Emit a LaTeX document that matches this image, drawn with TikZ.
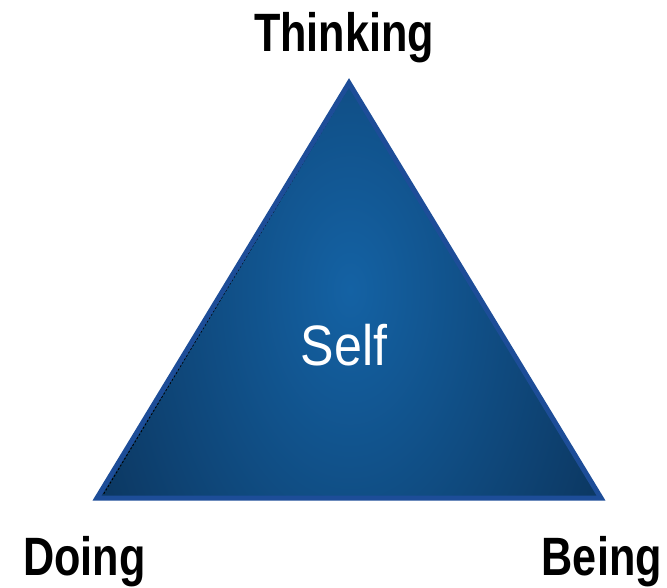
\documentclass[tikz,border=0pt]{standalone}
\usepackage{fontspec}
\newfontfamily\labfont[FakeStretch=0.8]{Liberation Sans}
\newfontfamily\selffont[FakeStretch=0.88]{Liberation Sans}
\definecolor{edgeblue}{HTML}{1D4D98}
\definecolor{darkfill}{HTML}{0C3964}
\definecolor{lightfill}{HTML}{1462A4}
\tikzset{
  corner/.style={font=\labfont\bfseries\fontsize{54}{60}\selectfont, inner sep=0pt, text=black},
  selflabel/.style={font=\selffont\fontsize{57}{62}\selectfont, inner sep=0pt, text=white}
}
\begin{document}
\begin{tikzpicture}[x=1pt,y=-1pt]
\useasboundingbox (0,0) rectangle (667,588);
\coordinate (T) at (349,83);
\coordinate (L) at (97,498);
\coordinate (R) at (601,498);
\fill[darkfill] (T) -- (L) -- (R) -- cycle;
\begin{scope}
  \clip (T) -- (L) -- (R) -- cycle;
  \shade[inner color=lightfill, outer color=darkfill] (350,290) ellipse (270 and 440);
\end{scope}
\coordinate (dA) at (346,91);
\coordinate (dB) at (103,495);
\draw[black, line width=1pt, dash pattern=on 2pt off 2pt] (dA) -- (dB);
\draw[edgeblue, line width=5pt, line join=miter] (T) -- (L) -- (R) -- cycle;
\node[corner, anchor=base] (thinking) at (344,51.5) {Thinking};
\node[corner, anchor=base west] (doing) at (23,575) {Doing};
\node[corner, anchor=base east] (being) at (662,575) {Being};
\node[selflabel, anchor=base] (self) at (344,365) {Self};
\end{tikzpicture}
\end{document}
